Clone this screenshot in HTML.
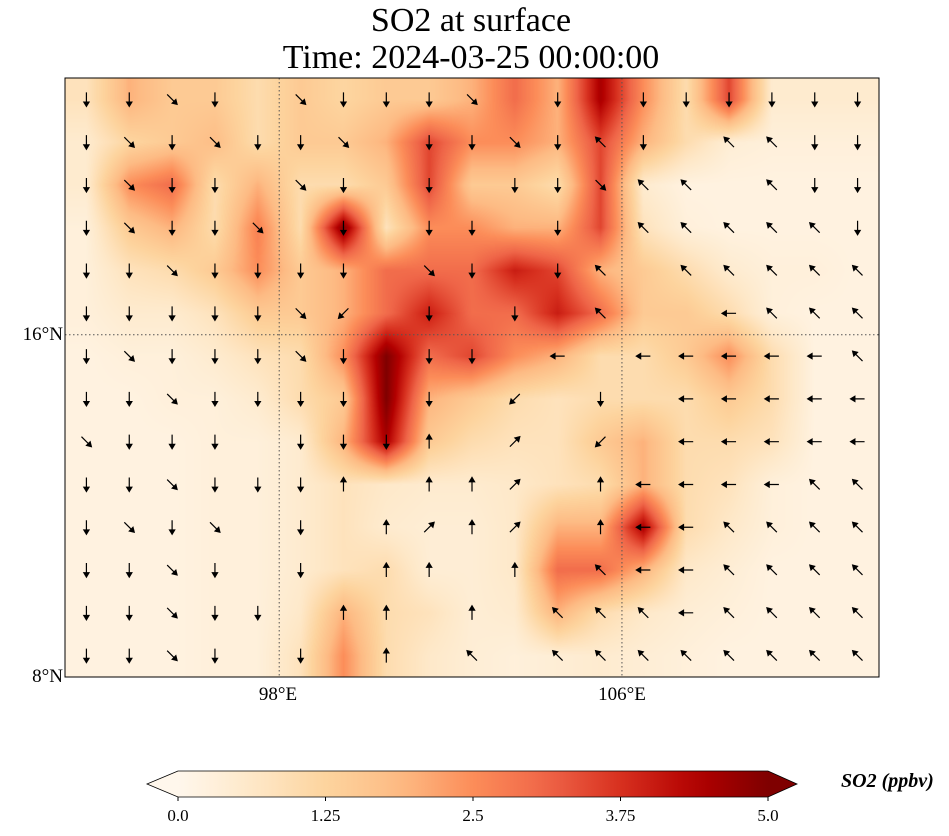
<!DOCTYPE html>
<html><head><meta charset="utf-8"><style>
body{margin:0;background:#fff;width:949px;height:836px;overflow:hidden;font-family:"Liberation Serif",serif;}
.t{position:absolute;white-space:nowrap;color:#000}
</style></head><body>
<div class="t" style="left:0;width:942px;text-align:center;top:2px;font-size:34px;line-height:37px">SO2 at surface<br>Time: 2024-03-25 00:00:00</div>
<canvas id="map" width="814" height="599" style="position:absolute;left:65px;top:78px"></canvas>
<svg id="ov" width="949" height="836" style="position:absolute;left:0;top:0"></svg>
<div class="t" style="right:886px;top:324px;font-size:19px">16°N</div>
<div class="t" style="right:886px;top:666px;font-size:19px">8°N</div>
<div class="t" style="left:278px;transform:translateX(-50%);top:684px;font-size:19px">98°E</div>
<div class="t" style="left:622px;transform:translateX(-50%);top:684px;font-size:19px">106°E</div>
<div class="t" style="left:841px;top:770px;font-size:20px;font-weight:bold;font-style:italic">SO2 (ppbv)</div>
<script>
const lons=[93,94,95,96,97,98,99,100,101,102,103,104,105,106,107,108,109,110,111];
const lats=[21.5,20.5,19.5,18.5,17.5,16.5,15.5,14.5,13.5,12.5,11.5,10.5,9.5,8.5];
const so2=[
[0.8,2.0,1.5,1.5,1.0,1.5,1.2,1.5,1.5,2.0,3.0,2.0,4.5,2.5,1.0,3.5,0.5,0.5,0.5],
[0.5,1.2,1.5,1.8,1.0,1.5,1.5,2.0,3.5,2.5,2.5,2.0,3.5,2.0,1.0,0.4,0.3,0.3,0.3],
[0.5,2.5,3.0,1.0,2.0,1.0,1.0,1.5,3.5,1.5,1.5,1.0,3.5,0.5,0.2,0.2,0.2,0.2,0.2],
[0.3,1.5,2.0,1.0,2.7,1.0,5.0,0.8,2.5,2.5,2.0,2.0,3.5,0.8,0.3,0.2,0.2,0.2,0.2],
[0.3,0.8,1.0,1.5,2.5,1.5,2.0,3.0,3.0,3.0,4.0,3.5,2.0,1.5,1.0,0.5,0.3,0.3,0.2],
[0.3,0.5,0.5,0.8,1.5,1.5,2.0,3.0,4.0,3.0,3.0,4.0,3.0,1.5,1.5,1.0,0.3,0.2,0.2],
[0.2,0.3,0.3,0.5,0.8,1.0,2.5,5.0,3.0,3.5,2.5,2.0,1.0,1.0,1.5,2.5,1.0,0.2,0.2],
[0.2,0.2,0.3,0.3,0.5,1.0,1.5,5.0,2.0,1.5,1.0,0.8,1.0,1.0,1.0,1.5,1.0,0.2,0.2],
[0.2,0.2,0.2,0.3,0.3,0.5,2.0,4.5,1.5,1.0,0.8,0.8,1.5,2.0,1.0,1.0,0.8,0.2,0.2],
[0.2,0.2,0.2,0.3,0.3,0.5,0.8,0.6,0.5,0.5,0.6,0.8,1.0,2.0,1.0,0.8,0.3,0.2,0.2],
[0.2,0.2,0.2,0.3,0.3,0.5,0.8,0.5,0.4,0.4,0.6,2.0,2.0,4.5,1.0,0.6,0.3,0.2,0.2],
[0.2,0.2,0.2,0.3,0.3,0.5,0.8,1.0,0.4,0.4,0.6,3.0,3.0,2.0,0.6,0.4,0.2,0.2,0.2],
[0.2,0.2,0.2,0.3,0.3,0.6,2.0,1.0,0.8,0.4,0.5,2.0,1.0,0.6,0.4,0.3,0.2,0.2,0.2],
[0.2,0.2,0.2,0.3,0.3,0.8,2.5,1.0,0.6,0.4,0.3,0.4,0.5,0.4,0.3,0.2,0.2,0.2,0.2]];
const windDir=[
"4434.34443.4.444444",
"4343443.443474.7744",
"4344.34.4.44377.744",
"43443.4.44.4.777774",
"4434444.34.47.77777",
"4444435.4.4.7..6777",
"4344434.44.6.666667",
"4434444.4.5.4.66666",
"3444.4440.1.5.66666",
"4434440.001.0666677",
"4343.4.0101.0667777",
"4434.4.00.0.7667777",
"44344.00.0.77767777",
"4434.4.0.7.77777777"];
const cbTicks=["0.0","1.25","2.5","3.75","5.0"];
const vmin=0,vmax=5;
const L=65,T=78,W=814,H=599;
function xs(lon){return L+(lon-93)*W/19;}
function ys(lat){return T+(22-lat)*H/14;}
const cm=[[255,247,236],[254,232,200],[253,212,158],[253,187,132],[252,141,89],[239,101,72],[215,48,31],[179,0,0],[127,0,0]];
function col(v){let t=Math.max(0,Math.min(1,(v-vmin)/(vmax-vmin)))*8;let i=Math.min(7,Math.floor(t)),f=t-i;return cm[i].map((c,k)=>Math.round(c+(cm[i+1][k]-c)*f));}
const cv=document.getElementById('map'),ctx=cv.getContext('2d'),img=ctx.createImageData(W,H);
for(let py=0;py<H;py++){const lat=22-(py+0.5)*14/H;let r=(21.5-lat);r=Math.max(0,Math.min(13,r));const r0=Math.min(12,Math.floor(r)),fr=r-r0;
for(let px=0;px<W;px++){const lon=93+(px+0.5)*19/W;let c=lon-93.5;c=Math.max(0,Math.min(18,c));const c0=Math.min(17,Math.floor(c)),fc=c-c0;
const v=so2[r0][c0]*(1-fr)*(1-fc)+so2[r0][c0+1]*(1-fr)*fc+so2[r0+1][c0]*fr*(1-fc)+so2[r0+1][c0+1]*fr*fc;
const k=col(v),o=(py*W+px)*4;img.data[o]=k[0];img.data[o+1]=k[1];img.data[o+2]=k[2];img.data[o+3]=255;}}
ctx.putImageData(img,0,0);
const NS='http://www.w3.org/2000/svg',ov=document.getElementById('ov');
function mk(tag,at,parent){const e=document.createElementNS(NS,tag);for(const k in at)e.setAttribute(k,at[k]);(parent||ov).appendChild(e);return e;}
let g=mk('g',{});


const ang=[-90,-45,0,45,90,135,180,-135];
lats.forEach((lat,i)=>{lons.forEach((lon,j)=>{const ch=(windDir[i]||'')[j];if(!ch||ch==='.')return;
const a=ang[+ch]*Math.PI/180,x=xs(lon+0.5),y=ys(lat),len=14,dx=Math.cos(a)*len,dy=Math.sin(a)*len;
const x1=x-dx/2,y1=y-dy/2,x2=x+dx/2,y2=y+dy/2;
const ar=mk('path',{d:`M${x1},${y1}L${x2},${y2}M${x2+Math.cos(a+2.6)*5},${y2+Math.sin(a+2.6)*5}L${x2},${y2}L${x2+Math.cos(a-2.6)*5},${y2+Math.sin(a-2.6)*5}Z`,stroke:'#000','stroke-width':1.2,fill:'#000'},g);

});});
let gl=mk('g',{stroke:'#555','stroke-width':1,'stroke-dasharray':'1.5,2.5',fill:'none'});


[98,106].forEach(l=>mk('line',{x1:xs(l),x2:xs(l),y1:T,y2:T+H},gl));
[16].forEach(l=>mk('line',{x1:L,x2:L+W,y1:ys(l),y2:ys(l)},gl));
let fr=mk('rect',{x:L,y:T,width:W,height:H,fill:'none',stroke:'#000','stroke-width':1});


const cx0=178,cx1=768,cy0=771,cy1=797;
const defs=mk('defs',{}),lg=mk('linearGradient',{id:'cbg',x1:0,x2:1,y1:0,y2:0},defs);
for(let i=0;i<=20;i++){const k=col(vmin+(vmax-vmin)*i/20);mk('stop',{offset:i/20,'stop-color':`rgb(${k})`},lg);}
let cb=mk('rect',{x:cx0,y:cy0,width:cx1-cx0,height:cy1-cy0,fill:'url(#cbg)'});


let k0=col(vmin),k1=col(vmax);
mk('path',{d:`M${cx0},${cy0}L147,${(cy0+cy1)/2}L${cx0},${cy1}Z`,fill:`rgb(${k0})`});
mk('path',{d:`M${cx1},${cy0}L797,${(cy0+cy1)/2}L${cx1},${cy1}Z`,fill:`rgb(${k1})`});
mk('path',{d:`M${cx0},${cy0}L147,${(cy0+cy1)/2}L${cx0},${cy1}L${cx1},${cy1}L797,${(cy0+cy1)/2}L${cx1},${cy0}Z`,fill:'none',stroke:'#000','stroke-width':0.8});
cbTicks.forEach((t,i)=>{const x=cx0+(cx1-cx0)*i/(cbTicks.length-1);mk('line',{x1:x,x2:x,y1:cy1,y2:cy1+4,stroke:'#000'});
const tx=mk('text',{x:x,y:821,'text-anchor':'middle','font-size':17,'font-family':'Liberation Serif, serif'});tx.textContent=t;

});
</script>
</body></html>
